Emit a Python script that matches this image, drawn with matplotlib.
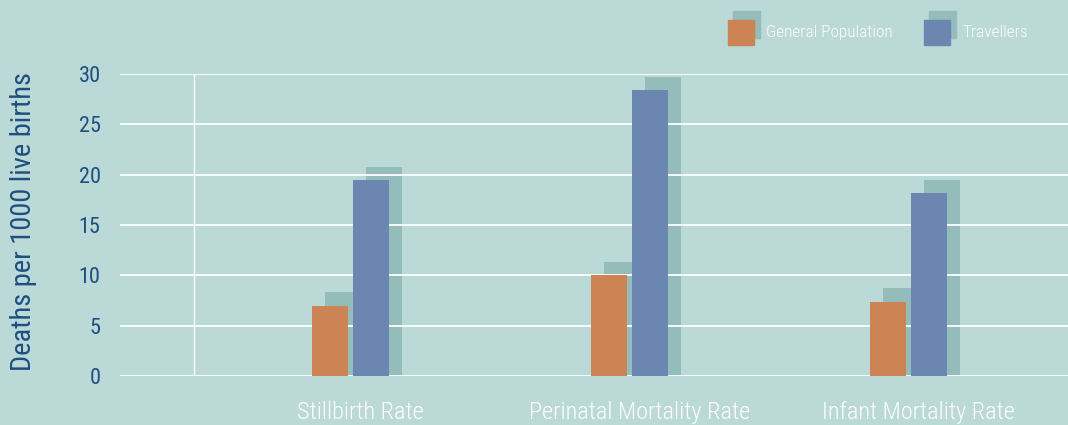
import matplotlib
matplotlib.use("Agg")
import matplotlib.pyplot as plt
from matplotlib.patches import Rectangle
import numpy as np

categories = ["Stillbirth Rate", "Perinatal Mortality Rate", "Infant Mortality Rate"]
general_population = [7.0, 10.0, 7.4]
travellers = [19.5, 28.4, 18.2]
series_names = ["General Population", "Travellers"]
yticks = [0, 5, 10, 15, 20, 25, 30]

BG = "#bad9d7"
ORANGE = "#cc8455"
BLUE = "#6b86b0"
SHADOW = "#94bcba"
TICK = "#1d4f80"
FONT = ["Roboto Condensed", "DejaVu Sans"]

W, H = 1068, 425
fig = plt.figure(figsize=(W / 100, H / 100), dpi=100, facecolor=BG)
ax = fig.add_axes([120 / W, 1 - 376 / H, (W - 120) / W, (376 - 74) / H])
ax.set_facecolor(BG)

x = np.arange(len(categories))
bw = 0.129
off = 0.0735
sdx = 0.0466  # shadow offset in x (data units)
sdy = 1.3     # shadow offset in y (data units)

# shadows
ax.bar(x - off + sdx, np.array(general_population) + sdy, width=bw, color=SHADOW, zorder=1)
ax.bar(x + off + sdx, np.array(travellers) + sdy, width=bw, color=SHADOW, zorder=1)
# front bars
ax.bar(x - off, general_population, width=bw, color=ORANGE, zorder=3)
ax.bar(x + off, travellers, width=bw, color=BLUE, zorder=3)

ax.set_xlim(-0.826, 2.572)
ax.set_ylim(0, 30)
ax.set_yticks(yticks)
for yv in yticks:
    ax.axhline(yv, color="white", lw=1.3, zorder=2)
ax.axvline(-0.561, color="white", lw=1.0, zorder=2)

for s in ax.spines.values():
    s.set_visible(False)
ax.tick_params(axis="y", length=0, pad=14, labelsize=16, labelcolor=TICK)
for lab in ax.get_yticklabels():
    lab.set_fontfamily(FONT)
ax.set_xticks(x + 0.035)
ax.set_xticklabels(categories, fontsize=17.6, color="white", family=FONT, fontweight=300)
ax.tick_params(axis="x", length=0, pad=18)
ax.set_ylabel("Deaths per 1000 live births", fontsize=20.4, color=TICK, family=FONT)
ax.yaxis.set_label_coords(-83 / (W - 120), 0.512)

# legend drawn manually in figure coordinates
def fx(px):
    return px / W

def fy(py):
    return 1 - py / H

legend_items = [(series_names[0], ORANGE, 728, 766), (series_names[1], BLUE, 924, 962)]
for name, col, px, tx in legend_items:
    fig.add_artist(Rectangle((fx(px + 5), fy(38)), fx(27), 27 / H, color=SHADOW,
                             transform=fig.transFigure, zorder=1))
    fig.add_artist(Rectangle((fx(px), fy(45)), fx(26), 25 / H, color=col,
                             transform=fig.transFigure, zorder=2))
    fig.text(fx(tx), fy(32.5), name, color="white", fontsize=12.4, family=FONT,
             fontweight=300, va="center", ha="left")

fig.savefig("out.png", dpi=100, facecolor=BG)
